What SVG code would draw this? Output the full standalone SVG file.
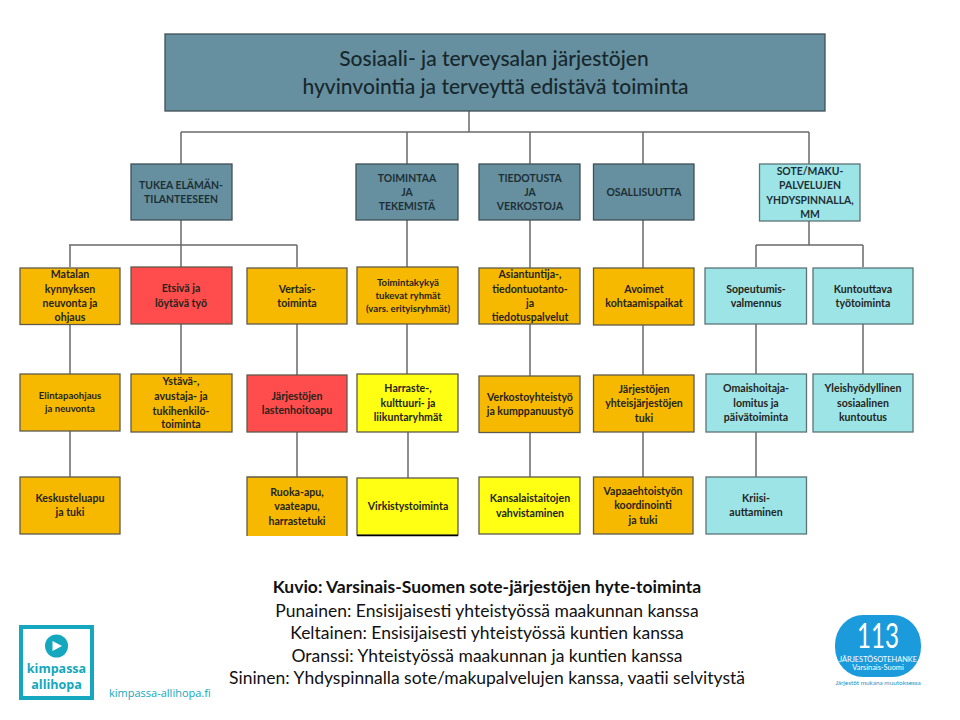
<svg xmlns="http://www.w3.org/2000/svg" width="960" height="720" viewBox="0 0 960 720">
<style>
.b{stroke:#5f5a4a;stroke-width:1.3}
.steel{fill:#66909f;stroke:#3f4f56}
.org{fill:#f7b900}
.red{fill:#ff4d4d}
.yel{fill:#ffff14}
.cy{fill:#9ce4e6;stroke:#5c7478}
.t{font-family:"Lato","Open Sans",sans-serif;font-weight:700;font-size:10.6px;text-anchor:middle;fill:#26241a}
.u{font-size:10.4px;fill:#1d2f36}
.s{font-size:9.6px}
.h{font-family:"Lato",sans-serif;font-weight:500;font-size:21px;text-anchor:middle;fill:#17272d}
.c{font-family:"Lato",sans-serif;font-size:17.500px;text-anchor:middle;fill:#111}
.con{fill:none;stroke:#6a6a6a;stroke-width:1.5}
.k{font-family:"Open Sans",sans-serif;fill:#14a7bd}
.w{font-family:"Lato",sans-serif;fill:#fff;text-anchor:middle}
</style>
<g id="connectors" class="con">
<path d="M469 111V132M181 132H809M181 132V164M407 132V164M530 132V164M643 132V164M809 132V164"/>
<path d="M181 220V267M69 245H297M70 245V267M297 245V267"/>
<path d="M407 220V267M530 220V268M643 220V268"/>
<path d="M809 221V245M756 245H863M756 245V267M863 245V267"/>
<path d="M70 324V374M70 431V477M181 324V374M297 324V375M297 432V477"/>
<path d="M407 324V374M408 432V478M530 324V376M530 432V477M643 325V375M643 432V477"/>
<path d="M756 324V374M756 432V477M863 324V374"/>
</g>
<g id="root"><rect class="b steel" x="165" y="34" width="660" height="77"/><text class="h" x="494" y="66">Sosiaali- ja terveysalan järjestöjen</text><text class="h" x="495.500" y="94">hyvinvointia ja terveyttä edistävä toiminta</text></g>

<g id="tukea"><rect class="b steel" x="131" y="164" width="101" height="56"/><text class="t u" x="181" y="189">TUKEA ELÄMÄN-</text><text class="t u" x="181" y="203">TILANTEESEEN</text></g>
<g id="toimintaa"><rect class="b steel" x="356" y="164" width="102" height="56"/><text class="t u" x="407" y="182">TOIMINTAA</text><text class="t u" x="407" y="196">JA</text><text class="t u" x="407" y="210">TEKEMISTÄ</text></g>
<g id="tiedotusta"><rect class="b steel" x="479" y="164" width="101" height="56"/><text class="t u" x="530" y="182">TIEDOTUSTA</text><text class="t u" x="530" y="196">JA</text><text class="t u" x="530" y="210">VERKOSTOJA</text></g>
<g id="osallisuutta"><rect class="b steel" x="593.5" y="164" width="100.5" height="56"/><text class="t u" x="644" y="196">OSALLISUUTTA</text></g>
<g id="sote"><rect class="b cy" x="759.5" y="164" width="100.5" height="57"/><text class="t u" x="810" y="175">SOTE/MAKU-</text><text class="t u" x="810" y="189">PALVELUJEN</text><text class="t u" x="810" y="204">YHDYSPINNALLA,</text><text class="t u" x="810" y="218">MM</text></g>

<g id="matalan"><rect class="b org" x="20" y="268" width="100" height="56.500"/><text class="t" x="70" y="278">Matalan</text><text class="t" x="70" y="293">kynnyksen</text><text class="t" x="70" y="307">neuvonta ja</text><text class="t" x="70" y="321">ohjaus</text></g>
<g id="etsiva"><rect class="b red" x="131" y="267" width="101" height="57"/><text class="t" x="181" y="292">Etsivä ja</text><text class="t" x="181" y="307">löytävä työ</text></g>
<g id="vertais"><rect class="b org" x="247" y="268" width="100" height="56"/><text class="t" x="297" y="293">Vertais-</text><text class="t" x="297" y="307">toiminta</text></g>
<g id="toimintakyky"><rect class="b org" x="357" y="267" width="101" height="57"/><text class="t s" x="408" y="286">Toimintakykyä</text><text class="t s" x="408" y="299">tukevat ryhmät</text><text class="t s" x="408" y="312">(vars. erityisryhmät)</text></g>
<g id="asiantuntija"><rect class="b org" x="479" y="268" width="101" height="56"/><text class="t" x="530" y="278">Asiantuntija-,</text><text class="t" x="530" y="293">tiedontuotanto-</text><text class="t" x="530" y="307">ja</text><text class="t" x="530" y="321">tiedotuspalvelut</text></g>
<g id="avoimet"><rect class="b org" x="593.5" y="268" width="100.500" height="57"/><text class="t" x="644" y="293">Avoimet</text><text class="t" x="644" y="307">kohtaamispaikat</text></g>
<g id="sopeutumis"><rect class="b cy" x="705" y="268" width="101.500" height="56"/><text class="t" x="756" y="293">Sopeutumis-</text><text class="t" x="756" y="307">valmennus</text></g>
<g id="kuntouttava"><rect class="b cy" x="813" y="268" width="100" height="56"/><text class="t" x="863" y="293">Kuntouttava</text><text class="t" x="863" y="307">työtoiminta</text></g>

<g id="elintapa"><rect class="b org" x="20" y="374" width="100" height="57"/><text class="t s" x="70" y="399">Elintapaohjaus</text><text class="t s" x="70" y="412">ja neuvonta</text></g>
<g id="ystava"><rect class="b org" x="131" y="374" width="101" height="58"/><text class="t" x="181" y="385">Ystävä-,</text><text class="t" x="181" y="400">avustaja- ja</text><text class="t" x="181" y="415">tukihenkilö-</text><text class="t" x="181" y="428">toiminta</text></g>
<g id="lastenhoito"><rect class="b red" x="247" y="375" width="100" height="57"/><text class="t" x="297" y="400">Järjestöjen</text><text class="t" x="297" y="414">lastenhoitoapu</text></g>
<g id="harraste"><rect class="b yel" x="357" y="374" width="101" height="58"/><text class="t" x="408" y="392">Harraste-,</text><text class="t" x="408" y="407">kulttuuri- ja</text><text class="t" x="408" y="421">liikuntaryhmät</text></g>
<g id="verkosto"><rect class="b org" x="479" y="376" width="101" height="56.500"/><text class="t" x="530" y="401">Verkostoyhteistyö</text><text class="t" x="530" y="415">ja kumppanuustyö</text></g>
<g id="yhteisjarjestot"><rect class="b org" x="593.5" y="375" width="100.500" height="57"/><text class="t" x="644" y="393">Järjestöjen</text><text class="t" x="644" y="407">yhteisjärjestöjen</text><text class="t" x="644" y="422">tuki</text></g>
<g id="omaishoitaja"><rect class="b cy" x="706" y="374" width="100.500" height="58"/><text class="t" x="756" y="392">Omaishoitaja-</text><text class="t" x="756" y="407">lomitus ja</text><text class="t" x="756" y="421">päivätoiminta</text></g>
<g id="yleishyodyllinen"><rect class="b cy" x="813" y="374" width="100" height="58"/><text class="t" x="863" y="392">Yleishyödyllinen</text><text class="t" x="863" y="407">sosiaalinen</text><text class="t" x="863" y="421">kuntoutus</text></g>

<g id="keskustelu"><rect class="b org" x="20" y="477" width="100" height="57"/><text class="t" x="70" y="502">Keskusteluapu</text><text class="t" x="70" y="516">ja tuki</text></g>
<g id="ruoka"><path class="org" d="M247 536V477H347V536"/><path d="M247 536V477H347V536" fill="none" stroke="#5f5a4a" stroke-width="1.3"/><text class="t" x="297" y="496">Ruoka-apu,</text><text class="t" x="297" y="510">vaateapu,</text><text class="t" x="297" y="525">harrastetuki</text></g>
<g id="virkistys"><rect class="b yel" x="357" y="478" width="101" height="57"/><path d="M357 535.500H458" stroke="#000" stroke-width="1.500"/><text class="t" x="408" y="510">Virkistystoiminta</text></g>
<g id="kansalais"><rect class="b yel" x="479" y="477" width="101" height="57"/><text class="t" x="530" y="502">Kansalaistaitojen</text><text class="t" x="530" y="517">vahvistaminen</text></g>
<g id="vapaaehtois"><rect class="b org" x="593.5" y="477" width="99.500" height="57"/><text class="t" x="643" y="495">Vapaaehtoistyön</text><text class="t" x="643" y="509">koordinointi</text><text class="t" x="643" y="524">ja tuki</text></g>
<g id="kriisi"><rect class="b cy" x="706" y="477" width="100.500" height="57"/><text class="t" x="756" y="502">Kriisi-</text><text class="t" x="756" y="516">auttaminen</text></g>

<g id="caption">
<text class="c" x="487" y="593" font-weight="700">Kuvio: Varsinais-Suomen sote-järjestöjen hyte-toiminta</text>
<text class="c" x="487" y="617">Punainen: Ensisijaisesti yhteistyössä maakunnan kanssa</text>
<text class="c" x="487" y="639">Keltainen: Ensisijaisesti yhteistyössä kuntien kanssa</text>
<text class="c" x="487" y="662">Oranssi: Yhteistyössä maakunnan ja kuntien kanssa</text>
<text class="c" x="487" y="684">Sininen: Yhdyspinnalla sote/makupalvelujen kanssa, vaatii selvitystä</text>
</g>
<g id="logo-kimpassa">
<rect x="21" y="627" width="71" height="71" fill="#fff" stroke="#14a7bd" stroke-width="4"/>
<circle cx="56.500" cy="646" r="11.500" fill="#14a7bd"/><path d="M52.500 641L62 646L52.500 651Z" fill="#fff"/>
<text class="k" x="56.500" y="673" font-size="12.500" font-weight="700" text-anchor="middle">kimpassa</text>
<text class="k" x="56.500" y="689" font-size="12.500" font-weight="700" text-anchor="middle">allihopa</text>
<text class="k" x="109" y="697" font-size="11">kimpassa-allihopa.fi</text>
</g>
<g id="logo-113">
<rect x="835" y="615" width="86" height="62" rx="28" ry="30" fill="#1c9bdc"/>
<text class="w" x="878" y="648" font-size="34" textLength="42" lengthAdjust="spacingAndGlyphs">113</text>
<text class="w" x="878" y="661.500" font-size="7.400">JÄRJESTÖSOTEHANKE</text>
<text class="w" x="878" y="669.500" font-size="7.400">Varsinais-Suomi</text>
<text x="878" y="685" font-family="Lato,sans-serif" font-size="6.400" text-anchor="middle" fill="#2a8fc4">Järjestöt mukana muutoksessa</text>
</g>
</svg>
